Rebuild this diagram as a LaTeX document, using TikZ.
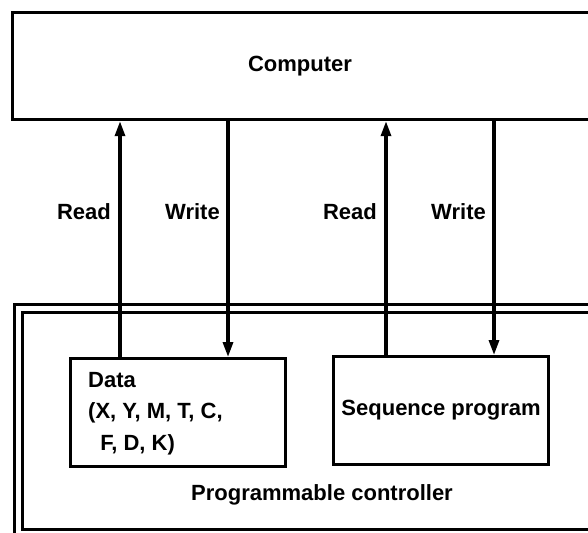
\documentclass[tikz,border=0pt]{standalone}
\usepackage{fontspec}
\setmainfont{Liberation Sans}
\usetikzlibrary{arrows.meta}

\tikzset{
  frame/.style={draw, line width=3.2pt, rectangle, inner sep=0pt},
  lbl/.style={font=\fontsize{22}{31.5}\selectfont\bfseries, inner sep=0pt},
  flow/.style={line width=3.2pt, -{Triangle[length=15pt,width=10pt]}},
}

\begin{document}
\begin{tikzpicture}[x=1pt, y=-1pt]
  \clip (0,0) rectangle (588,532);
  \fill[white] (0,0) rectangle (588,532);

  % host computer (runs off the right edge)
  \node[frame, minimum width=589pt, minimum height=107pt, anchor=north west] (computer) at (11,11) {};
  \node[lbl] (computertext) at (300,66) {Computer};

  % programmable controller: double outline
  \node[frame, minimum width=600pt, minimum height=240pt, anchor=north west] (pcouter) at (13,303) {};
  \node[frame, minimum width=600pt, minimum height=217pt, anchor=north west] (pcinner) at (21,311) {};
  \node[lbl] (pctext) at (322,495) {Programmable controller};

  % memory areas inside the controller
  \node[frame, minimum width=215pt, minimum height=108pt, anchor=north west] (data) at (69,357) {};
  \node[lbl, align=left, anchor=base west] (datatext) at (88,450)
    {Data\\(X, Y, M, T, C,\\\hspace*{0.55em}F, D, K)};
  \node[frame, minimum width=215pt, minimum height=108pt, anchor=north west] (seq) at (332,355) {};
  \node[lbl] (seqtext) at (seq.center) {Sequence program};

  % x positions of the four transfer lines
  \coordinate (r1) at (120,0);
  \coordinate (w1) at (228,0);
  \coordinate (r2) at (386,0);
  \coordinate (w2) at (494,0);

  \draw[flow] (r1 |- data.north) -- (r1 |- computer.south);
  \draw[flow] (w1 |- computer.south) -- (w1 |- data.north);
  \draw[flow] (r2 |- seq.north) -- (r2 |- computer.south);
  \draw[flow] (w2 |- computer.south) -- (w2 |- seq.north);

  \node[lbl, anchor=east] (read1) at ([xshift=-9pt]r1 |- 0,212) {Read};
  \node[lbl, anchor=east] (write1) at ([xshift=-8pt]w1 |- 0,212) {Write};
  \node[lbl, anchor=east] (read2) at ([xshift=-9pt]r2 |- 0,212) {Read};
  \node[lbl, anchor=east] (write2) at ([xshift=-8pt]w2 |- 0,212) {Write};
\end{tikzpicture}
\end{document}
